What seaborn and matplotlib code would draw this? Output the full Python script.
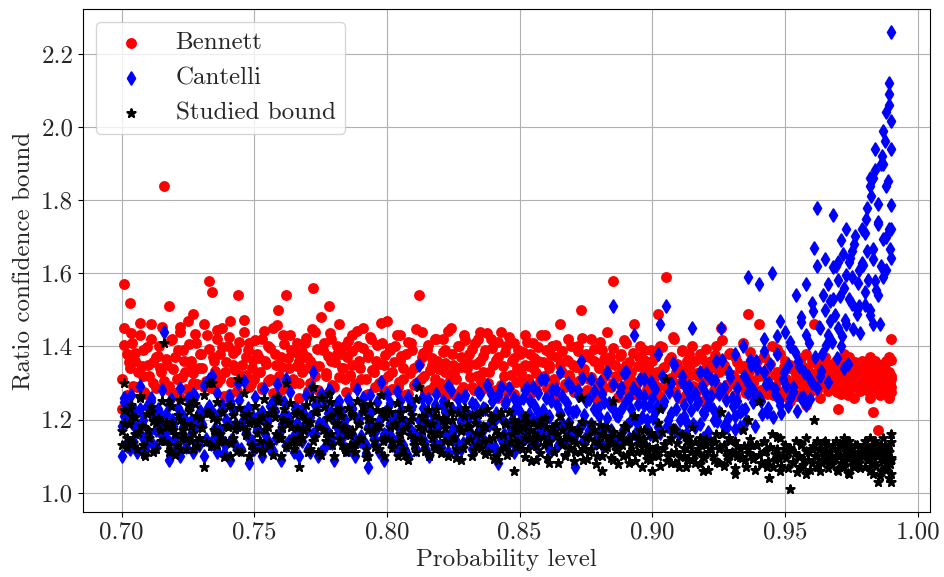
import numpy as np
import seaborn as sns
import matplotlib
matplotlib.use('Agg')
import matplotlib.pyplot as plt

# Probability levels, first batch of runs (shared by the three bounds)
prob_1 = [
    0.700, 0.701, 0.701, 0.702, 0.703, 0.703, 0.704, 0.705, 0.706, 0.707, 0.708, 0.708, 0.709, 0.710, 0.711, 0.712, 0.713, 0.714, 0.715, 0.716,
    0.717, 0.718, 0.718, 0.719, 0.720, 0.721, 0.722, 0.722, 0.723, 0.724, 0.725, 0.726, 0.727, 0.727, 0.728, 0.729, 0.730, 0.731, 0.732, 0.733,
    0.734, 0.735, 0.736, 0.736, 0.737, 0.738, 0.739, 0.740, 0.741, 0.741, 0.742, 0.743, 0.744, 0.745, 0.746, 0.747, 0.748, 0.748, 0.749, 0.750,
    0.751, 0.752, 0.753, 0.753, 0.754, 0.755, 0.756, 0.757, 0.758, 0.759, 0.760, 0.760, 0.761, 0.762, 0.763, 0.764, 0.765, 0.766, 0.767, 0.767,
    0.768, 0.769, 0.770, 0.771, 0.772, 0.772, 0.773, 0.774, 0.775, 0.776, 0.777, 0.778, 0.779, 0.779, 0.780, 0.781, 0.782, 0.783, 0.784, 0.784,
    0.785, 0.786, 0.787, 0.787, 0.788, 0.789, 0.790, 0.791, 0.792, 0.793, 0.793, 0.794, 0.795, 0.796, 0.797, 0.798, 0.799, 0.799, 0.800, 0.801,
    0.802, 0.803, 0.804, 0.805, 0.805, 0.806, 0.807, 0.808, 0.809, 0.810, 0.811, 0.812, 0.813, 0.813, 0.814, 0.815, 0.816, 0.817, 0.818, 0.818,
    0.819, 0.820, 0.821, 0.822, 0.822, 0.823, 0.824, 0.825, 0.826, 0.827, 0.828, 0.828, 0.829, 0.830, 0.831, 0.832, 0.833, 0.834, 0.835, 0.835,
    0.836, 0.837, 0.838, 0.839, 0.840, 0.841, 0.842, 0.842, 0.843, 0.844, 0.845, 0.846, 0.847, 0.848, 0.848, 0.849, 0.850, 0.851, 0.852, 0.852,
    0.853, 0.854, 0.855, 0.855, 0.856, 0.857, 0.858, 0.859, 0.860, 0.861, 0.861, 0.862, 0.863, 0.864, 0.865, 0.866, 0.867, 0.868, 0.868, 0.869,
    0.870, 0.871, 0.872, 0.873, 0.874, 0.874, 0.875, 0.876, 0.877, 0.878, 0.879, 0.880, 0.881, 0.881, 0.882, 0.883, 0.884, 0.885, 0.885, 0.886,
    0.887, 0.888, 0.889, 0.890, 0.890, 0.891, 0.892, 0.893, 0.894, 0.895, 0.896, 0.897, 0.897, 0.898, 0.899, 0.900, 0.901, 0.902, 0.902, 0.903,
    0.904, 0.905, 0.906, 0.907, 0.907, 0.908, 0.909, 0.910, 0.911, 0.912, 0.913, 0.913, 0.914, 0.915, 0.916, 0.917, 0.918, 0.919, 0.919, 0.920,
    0.921, 0.922, 0.923, 0.924, 0.925, 0.925, 0.926, 0.927, 0.928, 0.929, 0.930, 0.931, 0.931, 0.932, 0.933, 0.934, 0.935, 0.936, 0.936, 0.937,
    0.938, 0.939, 0.940, 0.941, 0.942, 0.942, 0.943, 0.944, 0.945, 0.946, 0.947, 0.948, 0.948, 0.949, 0.950, 0.951, 0.952, 0.952, 0.953, 0.954,
    0.955, 0.956, 0.956, 0.957, 0.958, 0.958, 0.959, 0.960, 0.960, 0.961, 0.962, 0.962, 0.963, 0.963, 0.964, 0.965, 0.965, 0.966, 0.966, 0.967,
    0.968, 0.968, 0.969, 0.970, 0.970, 0.971, 0.971, 0.972, 0.972, 0.973, 0.973, 0.974, 0.974, 0.975, 0.975, 0.976, 0.977, 0.978, 0.978, 0.979,
    0.980, 0.980, 0.981, 0.981, 0.982, 0.982, 0.982, 0.983, 0.983, 0.983, 0.984, 0.984, 0.985, 0.985, 0.985, 0.986, 0.986, 0.987, 0.987, 0.987,
    0.988, 0.988, 0.988, 0.989, 0.989, 0.989, 0.989, 0.990, 0.990, 0.990,
]

bennett_1 = [
    1.23, 1.57, 1.45, 1.38, 1.52, 1.34, 1.41, 1.36, 1.29, 1.43, 1.32, 1.39, 1.27, 1.35, 1.46, 1.30, 1.37, 1.40, 1.33, 1.84,
    1.35, 1.51, 1.28, 1.42, 1.37, 1.31, 1.44, 1.26, 1.39, 1.33, 1.47, 1.36, 1.49, 1.30, 1.41, 1.34, 1.38, 1.29, 1.43, 1.58,
    1.55, 1.36, 1.42, 1.30, 1.38, 1.45, 1.33, 1.40, 1.27, 1.47, 1.35, 1.39, 1.54, 1.32, 1.44, 1.37, 1.29, 1.41, 1.34, 1.31,
    1.38, 1.33, 1.42, 1.29, 1.36, 1.40, 1.31, 1.45, 1.35, 1.50, 1.37, 1.28, 1.43, 1.54, 1.34, 1.39, 1.30, 1.41, 1.26, 1.36,
    1.33, 1.41, 1.37, 1.30, 1.56, 1.35, 1.44, 1.28, 1.48, 1.39, 1.32, 1.51, 1.36, 1.42, 1.29, 1.38, 1.46, 1.34, 1.40, 1.31,
    1.37, 1.32, 1.43, 1.35, 1.29, 1.40, 1.34, 1.45, 1.31, 1.27, 1.38, 1.42, 1.33, 1.36, 1.30, 1.41, 1.35, 1.28, 1.47, 1.39,
    1.33, 1.40, 1.29, 1.36, 1.43, 1.31, 1.38, 1.27, 1.41, 1.34, 1.30, 1.54, 1.37, 1.44, 1.32, 1.39, 1.28, 1.35, 1.42, 1.31,
    1.36, 1.30, 1.42, 1.33, 1.39, 1.27, 1.45, 1.35, 1.31, 1.40, 1.37, 1.28, 1.43, 1.34, 1.38, 1.29, 1.41, 1.32, 1.36, 1.44,
    1.33, 1.39, 1.30, 1.42, 1.35, 1.28, 1.26, 1.37, 1.44, 1.32, 1.40, 1.29, 1.36, 1.27, 1.41, 1.34, 1.38, 1.31, 1.43, 1.35,
    1.31, 1.38, 1.34, 1.41, 1.28, 1.36, 1.43, 1.32, 1.39, 1.27, 1.35, 1.40, 1.30, 1.37, 1.46, 1.33, 1.29, 1.42, 1.36, 1.31,
    1.35, 1.29, 1.40, 1.50, 1.33, 1.27, 1.38, 1.31, 1.42, 1.36, 1.30, 1.34, 1.28, 1.39, 1.32, 1.44, 1.37, 1.58, 1.30, 1.35,
    1.32, 1.38, 1.29, 1.35, 1.41, 1.27, 1.33, 1.46, 1.30, 1.37, 1.26, 1.34, 1.39, 1.31, 1.28, 1.36, 1.32, 1.49, 1.29, 1.40,
    1.34, 1.59, 1.30, 1.37, 1.28, 1.42, 1.33, 1.26, 1.39, 1.31, 1.36, 1.29, 1.35, 1.40, 1.27, 1.32, 1.38, 1.30, 1.25, 1.34,
    1.31, 1.36, 1.28, 1.40, 1.33, 1.27, 1.45, 1.35, 1.29, 1.38, 1.32, 1.26, 1.37, 1.30, 1.34, 1.41, 1.28, 1.49, 1.33, 1.36,
    1.30, 1.34, 1.46, 1.28, 1.37, 1.32, 1.27, 1.35, 1.40, 1.29, 1.33, 1.38, 1.26, 1.31, 1.36, 1.30, 1.25, 1.34, 1.29, 1.32,
    1.31, 1.27, 1.35, 1.30, 1.38, 1.24, 1.33, 1.29, 1.36, 1.46, 1.32, 1.28, 1.34, 1.26, 1.30, 1.37, 1.33, 1.29, 1.35, 1.31,
    1.33, 1.29, 1.36, 1.23, 1.31, 1.34, 1.27, 1.38, 1.30, 1.35, 1.32, 1.28, 1.37, 1.30, 1.33, 1.26, 1.35, 1.31, 1.29, 1.36,
    1.30, 1.35, 1.28, 1.33, 1.31, 1.37, 1.26, 1.22, 1.34, 1.29, 1.32, 1.36, 1.17, 1.30, 1.33, 1.27, 1.35, 1.31, 1.29, 1.34,
    1.36, 1.28, 1.32, 1.30, 1.37, 1.26, 1.33, 1.42, 1.29, 1.31,
]

cantelli_1 = [
    1.10, 1.26, 1.21, 1.13, 1.24, 1.12, 1.19, 1.18, 1.11, 1.23, 1.15, 1.20, 1.12, 1.14, 1.25, 1.13, 1.17, 1.22, 1.16, 1.44,
    1.17, 1.24, 1.09, 1.20, 1.15, 1.12, 1.22, 1.10, 1.18, 1.14, 1.26, 1.16, 1.27, 1.11, 1.19, 1.13, 1.21, 1.10, 1.23, 1.31,
    1.32, 1.15, 1.21, 1.11, 1.17, 1.23, 1.13, 1.19, 1.09, 1.25, 1.14, 1.18, 1.30, 1.12, 1.22, 1.16, 1.08, 1.20, 1.14, 1.12,
    1.18, 1.13, 1.22, 1.10, 1.16, 1.20, 1.12, 1.25, 1.15, 1.26, 1.17, 1.09, 1.21, 1.31, 1.14, 1.19, 1.11, 1.23, 1.10, 1.16,
    1.14, 1.21, 1.17, 1.11, 1.33, 1.16, 1.24, 1.10, 1.27, 1.19, 1.13, 1.28, 1.15, 1.22, 1.09, 1.18, 1.25, 1.15, 1.20, 1.12,
    1.17, 1.12, 1.23, 1.16, 1.10, 1.20, 1.14, 1.26, 1.13, 1.07, 1.18, 1.22, 1.15, 1.17, 1.11, 1.21, 1.16, 1.09, 1.27, 1.19,
    1.15, 1.21, 1.11, 1.17, 1.25, 1.13, 1.19, 1.10, 1.23, 1.16, 1.12, 1.35, 1.18, 1.26, 1.14, 1.22, 1.10, 1.17, 1.24, 1.13,
    1.19, 1.13, 1.25, 1.16, 1.22, 1.11, 1.28, 1.18, 1.14, 1.23, 1.20, 1.12, 1.26, 1.17, 1.21, 1.12, 1.24, 1.15, 1.18, 1.27,
    1.17, 1.23, 1.13, 1.27, 1.19, 1.12, 1.08, 1.21, 1.29, 1.16, 1.25, 1.14, 1.20, 1.11, 1.26, 1.18, 1.22, 1.15, 1.28, 1.19,
    1.17, 1.25, 1.20, 1.29, 1.13, 1.22, 1.31, 1.18, 1.26, 1.12, 1.21, 1.28, 1.16, 1.24, 1.33, 1.19, 1.14, 1.30, 1.23, 1.17,
    1.22, 1.07, 1.28, 1.36, 1.19, 1.14, 1.25, 1.17, 1.31, 1.23, 1.16, 1.21, 1.13, 1.27, 1.18, 1.33, 1.24, 1.51, 1.15, 1.22,
    1.21, 1.29, 1.17, 1.25, 1.33, 1.15, 1.23, 1.43, 1.19, 1.27, 1.14, 1.24, 1.31, 1.20, 1.16, 1.26, 1.22, 1.38, 1.18, 1.46,
    1.24, 1.51, 1.20, 1.30, 1.17, 1.35, 1.23, 1.16, 1.32, 1.21, 1.28, 1.19, 1.26, 1.45, 1.18, 1.25, 1.33, 1.22, 1.15, 1.27,
    1.24, 1.31, 1.20, 1.36, 1.27, 1.22, 1.45, 1.29, 1.18, 1.33, 1.26, 1.21, 1.38, 1.25, 1.18, 1.40, 1.23, 1.59, 1.30, 1.35,
    1.28, 1.36, 1.57, 1.25, 1.42, 1.33, 1.22, 1.30, 1.60, 1.27, 1.38, 1.47, 1.24, 1.31, 1.44, 1.35, 1.26, 1.40, 1.29, 1.54,
    1.36, 1.26, 1.48, 1.33, 1.57, 1.24, 1.41, 1.30, 1.52, 1.67, 1.78, 1.62, 1.45, 1.32, 1.38, 1.64, 1.50, 1.43, 1.57, 1.47,
    1.76, 1.53, 1.62, 1.63, 1.45, 1.69, 1.40, 1.56, 1.34, 1.72, 1.46, 1.63, 1.53, 1.59, 1.66, 1.68, 1.49, 1.61, 1.51, 1.72,
    1.55, 1.71, 1.78, 1.66, 1.84, 1.86, 1.50, 1.46, 1.64, 1.86, 1.94, 1.58, 1.79, 1.74, 1.54, 1.90, 1.62, 1.90, 1.59, 1.99,
    1.70, 1.84, 2.04, 2.12, 1.72, 2.09, 2.06, 2.26, 1.94, 1.72,
]

studied_1 = [
    1.13, 1.30, 1.19, 1.15, 1.23, 1.14, 1.21, 1.16, 1.12, 1.26, 1.13, 1.18, 1.10, 1.17, 1.22, 1.11, 1.19, 1.20, 1.14, 1.41,
    1.18, 1.25, 1.11, 1.19, 1.16, 1.13, 1.20, 1.12, 1.17, 1.15, 1.24, 1.14, 1.25, 1.12, 1.21, 1.15, 1.18, 1.07, 1.22, 1.30,
    1.30, 1.17, 1.20, 1.13, 1.16, 1.22, 1.14, 1.18, 1.10, 1.24, 1.15, 1.19, 1.31, 1.11, 1.21, 1.17, 1.10, 1.19, 1.13, 1.12,
    1.19, 1.14, 1.21, 1.11, 1.17, 1.18, 1.13, 1.23, 1.16, 1.25, 1.15, 1.10, 1.20, 1.30, 1.13, 1.18, 1.12, 1.22, 1.07, 1.15,
    1.15, 1.20, 1.18, 1.12, 1.29, 1.14, 1.22, 1.11, 1.26, 1.17, 1.14, 1.27, 1.16, 1.21, 1.10, 1.19, 1.23, 1.13, 1.18, 1.12,
    1.16, 1.13, 1.21, 1.17, 1.11, 1.19, 1.15, 1.24, 1.12, 1.10, 1.17, 1.20, 1.14, 1.18, 1.12, 1.22, 1.15, 1.10, 1.23, 1.18,
    1.14, 1.19, 1.10, 1.16, 1.22, 1.12, 1.18, 1.09, 1.20, 1.15, 1.11, 1.29, 1.17, 1.21, 1.13, 1.19, 1.10, 1.15, 1.21, 1.12,
    1.16, 1.12, 1.20, 1.14, 1.19, 1.10, 1.22, 1.15, 1.12, 1.18, 1.17, 1.09, 1.21, 1.14, 1.18, 1.10, 1.19, 1.13, 1.16, 1.22,
    1.14, 1.18, 1.11, 1.21, 1.15, 1.10, 1.09, 1.16, 1.22, 1.13, 1.19, 1.11, 1.16, 1.06, 1.20, 1.14, 1.17, 1.12, 1.21, 1.15,
    1.12, 1.17, 1.14, 1.19, 1.09, 1.15, 1.20, 1.13, 1.18, 1.08, 1.14, 1.18, 1.11, 1.16, 1.21, 1.13, 1.10, 1.19, 1.15, 1.12,
    1.14, 1.11, 1.17, 1.26, 1.12, 1.09, 1.15, 1.11, 1.19, 1.14, 1.10, 1.13, 1.06, 1.16, 1.12, 1.18, 1.15, 1.25, 1.09, 1.13,
    1.12, 1.16, 1.10, 1.14, 1.18, 1.08, 1.13, 1.21, 1.11, 1.15, 1.07, 1.13, 1.17, 1.11, 1.09, 1.06, 1.12, 1.19, 1.10, 1.23,
    1.12, 1.31, 1.10, 1.15, 1.08, 1.17, 1.11, 1.07, 1.16, 1.10, 1.14, 1.09, 1.13, 1.18, 1.08, 1.12, 1.15, 1.10, 1.06, 1.13,
    1.11, 1.14, 1.09, 1.16, 1.12, 1.08, 1.22, 1.13, 1.10, 1.15, 1.11, 1.05, 1.14, 1.10, 1.12, 1.17, 1.09, 1.20, 1.12, 1.13,
    1.10, 1.13, 1.25, 1.08, 1.14, 1.11, 1.07, 1.04, 1.16, 1.09, 1.12, 1.15, 1.06, 1.10, 1.13, 1.11, 1.01, 1.12, 1.08, 1.14,
    1.10, 1.07, 1.13, 1.09, 1.15, 1.05, 1.11, 1.08, 1.12, 1.20, 1.14, 1.10, 1.12, 1.06, 1.09, 1.14, 1.11, 1.08, 1.13, 1.10,
    1.12, 1.09, 1.14, 1.06, 1.10, 1.13, 1.08, 1.15, 1.07, 1.12, 1.10, 1.05, 1.14, 1.09, 1.11, 1.07, 1.13, 1.10, 1.08, 1.12,
    1.11, 1.14, 1.09, 1.12, 1.10, 1.15, 1.07, 1.05, 1.13, 1.11, 1.08, 1.14, 1.03, 1.10, 1.12, 1.06, 1.13, 1.09, 1.11, 1.15,
    1.12, 1.07, 1.10, 1.04, 1.13, 1.08, 1.11, 1.16, 1.03, 1.09,
]

# Second batch of runs
prob_2 = [
    .7003, .7011, .7019, .7027, .7036, .7044, .7052, .7061, .7069, .7077, .7086, .7094, .7103, .7111, .7119, .7128, .7136, .7144, .7153, .7161,
    .7169, .7178, .7186, .7194, .7203, .7211, .7219, .7228, .7236, .7244, .7253, .7261, .7269, .7278, .7286, .7294, .7303, .7311, .7319, .7328,
    .7336, .7344, .7353, .7361, .7369, .7378, .7386, .7394, .7403, .7411, .7419, .7428, .7436, .7444, .7453, .7461, .7469, .7478, .7486, .7494,
    .7503, .7511, .7519, .7528, .7536, .7544, .7553, .7561, .7569, .7578, .7586, .7594, .7603, .7611, .7619, .7628, .7636, .7644, .7653, .7661,
    .7669, .7678, .7686, .7694, .7703, .7711, .7719, .7728, .7736, .7744, .7753, .7761, .7769, .7778, .7786, .7794, .7803, .7811, .7819, .7828,
    .7836, .7844, .7853, .7861, .7869, .7878, .7886, .7894, .7903, .7911, .7919, .7928, .7936, .7944, .7953, .7961, .7969, .7978, .7986, .7994,
    .8003, .8011, .8019, .8028, .8036, .8044, .8053, .8061, .8069, .8078, .8086, .8094, .8103, .8111, .8119, .8128, .8136, .8144, .8153, .8161,
    .8169, .8178, .8186, .8194, .8203, .8211, .8219, .8228, .8236, .8244, .8253, .8261, .8269, .8278, .8286, .8294, .8303, .8311, .8319, .8328,
    .8336, .8344, .8353, .8361, .8369, .8378, .8386, .8394, .8403, .8411, .8419, .8428, .8436, .8444, .8453, .8461, .8469, .8478, .8486, .8494,
    .8503, .8511, .8519, .8528, .8536, .8544, .8553, .8561, .8569, .8578, .8586, .8594, .8603, .8611, .8619, .8628, .8636, .8644, .8653, .8661,
    .8669, .8678, .8686, .8694, .8703, .8711, .8719, .8728, .8736, .8744, .8753, .8761, .8769, .8778, .8786, .8794, .8803, .8811, .8819, .8828,
    .8836, .8844, .8853, .8861, .8869, .8878, .8886, .8894, .8903, .8911, .8919, .8928, .8936, .8944, .8953, .8961, .8969, .8978, .8986, .8994,
    .9003, .9011, .9019, .9028, .9036, .9044, .9053, .9061, .9069, .9078, .9086, .9094, .9103, .9111, .9119, .9128, .9136, .9144, .9153, .9161,
    .9169, .9178, .9186, .9194, .9203, .9211, .9219, .9228, .9236, .9244, .9253, .9261, .9269, .9278, .9286, .9294, .9303, .9311, .9319, .9328,
    .9336, .9344, .9353, .9361, .9369, .9378, .9386, .9394, .9403, .9411, .9419, .9428, .9436, .9444, .9453, .9461, .9469, .9478, .9486, .9494,
    .9503, .9511, .9519, .9528, .9536, .9544, .9553, .9561, .9569, .9578, .9586, .9594, .9603, .9611, .9619, .9628, .9636, .9644, .9653, .9661,
    .9669, .9675, .9681, .9688, .9694, .9700, .9706, .9713, .9719, .9725, .9731, .9738, .9744, .9750, .9756, .9763, .9769, .9775, .9781, .9788,
    .9794, .9800, .9806, .9813, .9819, .9825, .9831, .9838, .9844, .9850, .9856, .9863, .9869, .9875, .9881, .9888, .9894, .9897, .9900, .9900,
]

bennett_2 = [
    1.312, 1.404, 1.268, 1.356, 1.437, 1.291, 1.382, 1.329, 1.465, 1.347, 1.274, 1.398, 1.318, 1.421, 1.356, 1.285, 1.373, 1.341, 1.452, 1.304,
    1.366, 1.293, 1.417, 1.338, 1.272, 1.389, 1.452, 1.315, 1.361, 1.283, 1.407, 1.349, 1.326, 1.433, 1.297, 1.378, 1.342, 1.461, 1.306, 1.394,
    1.287, 1.372, 1.334, 1.446, 1.311, 1.398, 1.264, 1.357, 1.425, 1.302, 1.381, 1.336, 1.279, 1.413, 1.348, 1.471, 1.322, 1.389, 1.296, 1.364,
    1.418, 1.327, 1.369, 1.284, 1.441, 1.352, 1.306, 1.396, 1.273, 1.378, 1.458, 1.319, 1.343, 1.406, 1.289, 1.367, 1.432, 1.311, 1.385, 1.347,
    1.301, 1.384, 1.337, 1.423, 1.279, 1.361, 1.448, 1.318, 1.393, 1.346, 1.271, 1.409, 1.328, 1.375, 1.437, 1.294, 1.356, 1.402, 1.315, 1.379,
    1.342, 1.276, 1.414, 1.323, 1.388, 1.297, 1.441, 1.359, 1.312, 1.395, 1.268, 1.371, 1.426, 1.335, 1.289, 1.404, 1.351, 1.463, 1.307, 1.377,
    1.318, 1.397, 1.284, 1.356, 1.431, 1.302, 1.374, 1.342, 1.268, 1.412, 1.327, 1.389, 1.295, 1.448, 1.353, 1.311, 1.382, 1.276, 1.405, 1.336,
    1.367, 1.293, 1.421, 1.338, 1.274, 1.386, 1.354, 1.442, 1.309, 1.378, 1.326, 1.263, 1.401, 1.345, 1.288, 1.417, 1.361, 1.317, 1.392, 1.281,
    1.352, 1.419, 1.306, 1.374, 1.287, 1.438, 1.331, 1.396, 1.268, 1.362, 1.411, 1.295, 1.347, 1.384, 1.276, 1.426, 1.321, 1.368, 1.302, 1.391,
    1.327, 1.384, 1.291, 1.412, 1.346, 1.273, 1.367, 1.328, 1.399, 1.304, 1.357, 1.432, 1.285, 1.341, 1.376, 1.312, 1.404, 1.263, 1.349, 1.387,
    1.298, 1.363, 1.321, 1.402, 1.276, 1.345, 1.388, 1.308, 1.424, 1.337, 1.282, 1.371, 1.316, 1.394, 1.259, 1.352, 1.413, 1.294, 1.366, 1.327,
    1.351, 1.288, 1.397, 1.319, 1.262, 1.374, 1.338, 1.418, 1.296, 1.357, 1.309, 1.383, 1.271, 1.346, 1.402, 1.316, 1.362, 1.284, 1.335, 1.391,
    1.306, 1.372, 1.329, 1.264, 1.398, 1.343, 1.287, 1.364, 1.314, 1.427, 1.276, 1.352, 1.301, 1.388, 1.336, 1.268, 1.379, 1.322, 1.293, 1.361,
    1.327, 1.283, 1.366, 1.304, 1.392, 1.258, 1.341, 1.312, 1.376, 1.291, 1.354, 1.418, 1.279, 1.336, 1.298, 1.383, 1.321, 1.266, 1.357, 1.308,
    1.293, 1.347, 1.272, 1.328, 1.386, 1.304, 1.259, 1.361, 1.318, 1.282, 1.374, 1.336, 1.297, 1.351, 1.268, 1.322, 1.393, 1.308, 1.276, 1.344,
    1.312, 1.276, 1.348, 1.297, 1.334, 1.263, 1.321, 1.367, 1.288, 1.342, 1.306, 1.274, 1.356, 1.319, 1.283, 1.338, 1.297, 1.362, 1.314, 1.279,
    1.327, 1.291, 1.352, 1.306, 1.274, 1.339, 1.318, 1.284, 1.361, 1.297, 1.332, 1.268, 1.347, 1.312, 1.288, 1.356, 1.303, 1.327, 1.279, 1.343,
    1.318, 1.284, 1.346, 1.301, 1.273, 1.337, 1.312, 1.356, 1.289, 1.324, 1.267, 1.341, 1.306, 1.353, 1.282, 1.328, 1.297, 1.362, 1.318, 1.276,
]

cantelli_2 = [
    1.182, 1.247, 1.128, 1.205, 1.268, 1.141, 1.223, 1.176, 1.292, 1.193, 1.115, 1.236, 1.162, 1.258, 1.211, 1.124, 1.229, 1.187, 1.281, 1.153,
    1.214, 1.138, 1.257, 1.182, 1.117, 1.231, 1.286, 1.159, 1.204, 1.126, 1.243, 1.197, 1.171, 1.265, 1.133, 1.222, 1.189, 1.295, 1.148, 1.238,
    1.134, 1.219, 1.176, 1.272, 1.153, 1.241, 1.109, 1.198, 1.263, 1.145, 1.226, 1.185, 1.121, 1.254, 1.192, 1.306, 1.167, 1.232, 1.138, 1.207,
    1.262, 1.171, 1.212, 1.124, 1.284, 1.196, 1.142, 1.237, 1.113, 1.223, 1.297, 1.158, 1.187, 1.249, 1.131, 1.206, 1.274, 1.151, 1.228, 1.191,
    1.146, 1.228, 1.183, 1.266, 1.119, 1.207, 1.288, 1.162, 1.239, 1.191, 1.112, 1.253, 1.173, 1.218, 1.279, 1.137, 1.201, 1.246, 1.156, 1.224,
    1.188, 1.118, 1.257, 1.167, 1.232, 1.141, 1.283, 1.203, 1.156, 1.241, 1.109, 1.217, 1.268, 1.179, 1.134, 1.248, 1.196, 1.302, 1.149, 1.221,
    1.163, 1.246, 1.131, 1.205, 1.279, 1.152, 1.226, 1.189, 1.117, 1.262, 1.174, 1.238, 1.143, 1.296, 1.198, 1.159, 1.231, 1.123, 1.255, 1.184,
    1.217, 1.142, 1.271, 1.186, 1.124, 1.238, 1.203, 1.293, 1.157, 1.228, 1.172, 1.114, 1.256, 1.193, 1.136, 1.268, 1.211, 1.166, 1.244, 1.131,
    1.203, 1.276, 1.152, 1.231, 1.139, 1.294, 1.184, 1.252, 1.121, 1.217, 1.268, 1.146, 1.198, 1.243, 1.128, 1.285, 1.173, 1.226, 1.157, 1.249,
    1.193, 1.258, 1.149, 1.286, 1.214, 1.138, 1.241, 1.192, 1.273, 1.168, 1.226, 1.311, 1.152, 1.207, 1.251, 1.176, 1.283, 1.131, 1.219, 1.264,
    1.173, 1.246, 1.194, 1.289, 1.151, 1.223, 1.268, 1.181, 1.314, 1.211, 1.157, 1.256, 1.188, 1.277, 1.136, 1.232, 1.302, 1.169, 1.249, 1.204,
    1.245, 1.172, 1.297, 1.213, 1.148, 1.276, 1.231, 1.328, 1.186, 1.258, 1.199, 1.287, 1.161, 1.242, 1.311, 1.207, 1.264, 1.178, 1.236, 1.302,
    1.205, 1.284, 1.236, 1.163, 1.318, 1.252, 1.181, 1.276, 1.217, 1.354, 1.172, 1.264, 1.198, 1.303, 1.241, 1.159, 1.291, 1.227, 1.189, 1.272,
    1.242, 1.188, 1.293, 1.216, 1.327, 1.167, 1.264, 1.229, 1.308, 1.196, 1.281, 1.362, 1.182, 1.253, 1.204, 1.316, 1.237, 1.174, 1.286, 1.221,
    1.226, 1.318, 1.197, 1.273, 1.364, 1.248, 1.183, 1.341, 1.262, 1.214, 1.387, 1.296, 1.231, 1.352, 1.206, 1.284, 1.428, 1.253, 1.219, 1.331,
    1.293, 1.238, 1.412, 1.276, 1.385, 1.224, 1.347, 1.468, 1.262, 1.431, 1.318, 1.256, 1.497, 1.372, 1.287, 1.453, 1.334, 1.541, 1.403, 1.302,
    1.524, 1.412, 1.617, 1.486, 1.367, 1.583, 1.538, 1.429, 1.654, 1.473, 1.596, 1.352, 1.642, 1.517, 1.448, 1.701, 1.502, 1.573, 1.437, 1.628,
    1.623, 1.514, 1.748, 1.582, 1.486, 1.812, 1.667, 1.883, 1.553, 1.736, 1.462, 1.921, 1.694, 1.962, 1.608, 1.853, 1.667, 2.018, 1.786, 1.642,
]

studied_2 = [
    1.168, 1.226, 1.124, 1.187, 1.241, 1.137, 1.208, 1.162, 1.263, 1.181, 1.106, 1.214, 1.149, 1.233, 1.196, 1.118, 1.205, 1.172, 1.252, 1.141,
    1.193, 1.131, 1.236, 1.171, 1.104, 1.212, 1.254, 1.149, 1.188, 1.119, 1.224, 1.181, 1.163, 1.243, 1.127, 1.203, 1.176, 1.268, 1.138, 1.219,
    1.128, 1.204, 1.166, 1.247, 1.142, 1.221, 1.097, 1.183, 1.238, 1.136, 1.211, 1.174, 1.114, 1.232, 1.179, 1.272, 1.158, 1.215, 1.131, 1.192,
    1.237, 1.162, 1.198, 1.117, 1.255, 1.184, 1.135, 1.219, 1.103, 1.207, 1.262, 1.149, 1.176, 1.228, 1.124, 1.193, 1.246, 1.143, 1.214, 1.178,
    1.139, 1.213, 1.172, 1.241, 1.111, 1.194, 1.258, 1.153, 1.222, 1.179, 1.102, 1.233, 1.164, 1.204, 1.249, 1.129, 1.187, 1.226, 1.147, 1.209,
    1.176, 1.112, 1.231, 1.158, 1.214, 1.133, 1.251, 1.189, 1.147, 1.221, 1.098, 1.202, 1.243, 1.167, 1.126, 1.227, 1.183, 1.266, 1.141, 1.206,
    1.148, 1.221, 1.122, 1.183, 1.246, 1.139, 1.204, 1.171, 1.103, 1.232, 1.158, 1.213, 1.131, 1.256, 1.179, 1.144, 1.208, 1.114, 1.227, 1.165,
    1.187, 1.128, 1.228, 1.163, 1.109, 1.204, 1.176, 1.243, 1.139, 1.198, 1.151, 1.096, 1.219, 1.168, 1.121, 1.232, 1.183, 1.146, 1.211, 1.117,
    1.162, 1.214, 1.121, 1.182, 1.107, 1.228, 1.148, 1.197, 1.093, 1.171, 1.209, 1.116, 1.157, 1.189, 1.102, 1.221, 1.139, 1.176, 1.124, 1.193,
    1.131, 1.176, 1.098, 1.193, 1.149, 1.087, 1.162, 1.128, 1.184, 1.109, 1.151, 1.203, 1.094, 1.139, 1.169, 1.114, 1.188, 1.082, 1.143, 1.172,
    1.103, 1.151, 1.122, 1.178, 1.086, 1.136, 1.163, 1.111, 1.192, 1.129, 1.092, 1.157, 1.118, 1.171, 1.079, 1.141, 1.184, 1.101, 1.155, 1.126,
    1.138, 1.096, 1.167, 1.117, 1.079, 1.152, 1.129, 1.181, 1.102, 1.143, 1.111, 1.158, 1.086, 1.134, 1.172, 1.114, 1.147, 1.093, 1.126, 1.163,
    1.104, 1.149, 1.121, 1.073, 1.166, 1.133, 1.087, 1.142, 1.109, 1.178, 1.081, 1.136, 1.098, 1.157, 1.122, 1.069, 1.151, 1.112, 1.091, 1.139,
    1.109, 1.078, 1.132, 1.096, 1.147, 1.063, 1.118, 1.101, 1.139, 1.084, 1.124, 1.161, 1.073, 1.113, 1.089, 1.142, 1.106, 1.068, 1.127, 1.097,
    1.096, 1.128, 1.071, 1.109, 1.146, 1.093, 1.062, 1.131, 1.102, 1.078, 1.138, 1.114, 1.087, 1.124, 1.069, 1.105, 1.152, 1.092, 1.074, 1.118,
    1.094, 1.066, 1.121, 1.083, 1.109, 1.057, 1.098, 1.132, 1.075, 1.114, 1.089, 1.062, 1.127, 1.101, 1.071, 1.117, 1.085, 1.136, 1.096, 1.068,
    1.113, 1.078, 1.129, 1.094, 1.061, 1.118, 1.103, 1.072, 1.136, 1.087, 1.112, 1.054, 1.124, 1.098, 1.076, 1.131, 1.091, 1.107, 1.068, 1.121,
    1.104, 1.071, 1.126, 1.089, 1.058, 1.118, 1.097, 1.134, 1.074, 1.109, 1.046, 1.121, 1.086, 1.131, 1.062, 1.113, 1.079, 1.139, 1.094, 1.052,
]

prob = prob_1 + prob_2
bennett = bennett_1 + bennett_2
cantelli = cantelli_1 + cantelli_2
studied = studied_1 + studied_2

# Computer Modern look (set after seaborn style so it is not overwritten)
sns.set_style('ticks')
plt.rcParams['font.family'] = 'serif'
plt.rcParams['font.serif'] = ['cmr10', 'DejaVu Serif']
plt.rcParams['mathtext.fontset'] = 'cm'
plt.rcParams['axes.formatter.use_mathtext'] = True
plt.rcParams['axes.unicode_minus'] = False

fig, ax = plt.subplots(figsize=(9.44, 5.77), dpi=100)
fig.subplots_adjust(left=0.088, right=0.985, bottom=0.113, top=0.984)

sns.scatterplot(x=prob, y=bennett, ax=ax, color='red', marker='o', s=40,
                edgecolor='red', linewidth=1.5, label='Bennett')
sns.scatterplot(x=prob, y=cantelli, ax=ax, color='blue', marker='d', s=40,
                edgecolor='blue', linewidth=1.5, label='Cantelli')
sns.scatterplot(x=prob, y=studied, ax=ax, color='black', marker='*', s=40,
                edgecolor='black', linewidth=1.5, label='Studied bound')

ax.set_xticks([0.70, 0.75, 0.80, 0.85, 0.90, 0.95, 1.00])
ax.set_xticklabels(['0.70', '0.75', '0.80', '0.85', '0.90', '0.95', '1.00'])
ax.set_yticks([1.0, 1.2, 1.4, 1.6, 1.8, 2.0, 2.2])
ax.set_yticklabels(['1.0', '1.2', '1.4', '1.6', '1.8', '2.0', '2.2'])
ax.tick_params(labelsize=18, length=3.5, width=0.8, color='black')
for sp in ax.spines.values():
    sp.set_color('black')
    sp.set_linewidth(0.8)

ax.grid(True, color='#b0b0b0', linewidth=0.8)
ax.set_axisbelow(True)
ax.set_xlabel('Probability level', fontsize=18)
ax.set_ylabel('Ratio confidence bound', fontsize=18)
ax.legend(loc='upper left', fontsize=18, framealpha=0.8, edgecolor='0.8',
          fancybox=True, scatterpoints=1)

fig.savefig('out.png', dpi=100)
